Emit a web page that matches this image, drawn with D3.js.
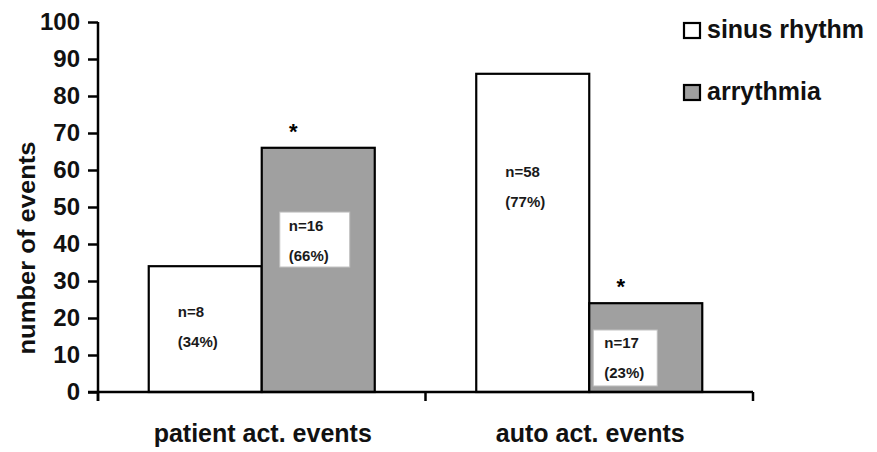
<!DOCTYPE html>
<html>
<head>
<meta charset="utf-8">
<script src="https://cdn.jsdelivr.net/npm/d3@7"></script>
<style>
  html, body { margin: 0; padding: 0; background: #fff; }
  svg { display: block; font-family: "Liberation Sans", Arial, sans-serif; }
</style>
</head>
<body>
<svg id="chart" width="877" height="452"></svg>
<script>
// ---- data ----
const categories = ["patient act. events", "auto act. events"];
const seriesNames = ["sinus rhythm", "arrythmia"];
const sinusValues = [34, 86];
const arrythmiaValues = [66, 24];
const sinusLabels = [["n=8", "(34%)"], ["n=58", "(77%)"]];
const arrythmiaLabels = [["n=16", "(66%)"], ["n=17", "(23%)"]];
const yTicks = [0, 10, 20, 30, 40, 50, 60, 70, 80, 90, 100];

// ---- layout ----
const svg = d3.select("#chart");
const plotLeft = 98, plotRight = 753, plotTop = 22, plotBottom = 392;
const colors = { "sinus rhythm": "#ffffff", "arrythmia": "#a0a0a0" };
// label anchor (value units, where first text line sits) for each series/category
const labelAnchor = { "sinus rhythm": [20.3, 58.1], "arrythmia": [43.5, 11.9] };

const x0 = d3.scaleBand().domain(categories).range([plotLeft, plotRight]).paddingInner(0).paddingOuter(0);
const x1 = d3.scaleBand().domain(seriesNames).range([0, x0.bandwidth()]).paddingInner(0).paddingOuter(0.449);
const y = d3.scaleLinear().domain([0, 100]).range([plotBottom, plotTop]);

const rows = [];
categories.forEach((c, i) => {
  rows.push({ cat: c, series: "sinus rhythm", value: sinusValues[i], label: sinusLabels[i], ci: i });
  rows.push({ cat: c, series: "arrythmia", value: arrythmiaValues[i], label: arrythmiaLabels[i], ci: i });
});

// bars
svg.append("g").selectAll("rect").data(rows).join("rect")
  .attr("x", d => x0(d.cat) + x1(d.series))
  .attr("y", d => y(d.value))
  .attr("width", x1.bandwidth())
  .attr("height", d => y(0) - y(d.value))
  .attr("fill", d => colors[d.series])
  .attr("stroke", "#000")
  .attr("stroke-width", 2.2);

// label boxes + texts
const lg = svg.append("g").selectAll("g").data(rows).join("g")
  .attr("transform", d => {
    const bx = x0(d.cat) + x1(d.series);
    const off = d.series === "arrythmia" ? (d.ci === 0 ? 18 : 4) : 29;
    return `translate(${bx + off},${y(labelAnchor[d.series][d.ci])})`;
  });
lg.append("rect")
  .attr("x", 0)
  .attr("y", d => d.ci === 0 ? -19 : -18)
  .attr("width", d => d.ci === 0 ? 70 : 64)
  .attr("height", d => d.ci === 0 ? 55 : 56)
  .attr("fill", "#fff")
  .attr("stroke", d => d.series === "arrythmia" ? "#bdbdbd" : "none")
  .attr("stroke-width", 1);
lg.append("text")
  .attr("x", d => d.series === "arrythmia" ? (d.ci === 0 ? 9 : 11) : 0)
  .attr("y", 0)
  .attr("font-size", 15).attr("font-weight", "bold").attr("fill", "#1a1a1a")
  .text(d => d.label[0]);
lg.append("text")
  .attr("x", d => d.series === "arrythmia" ? (d.ci === 0 ? 9 : 11) : 0)
  .attr("y", 30)
  .attr("font-size", 15).attr("font-weight", "bold").attr("fill", "#1a1a1a")
  .text(d => d.label[1]);

// asterisks over significant bars
svg.append("g").selectAll("text").data(rows.filter(d => d.series === "arrythmia")).join("text")
  .attr("x", d => x0(d.cat) + x1(d.series) + x1.bandwidth() * 0.28)
  .attr("y", d => y(d.value) - 9)
  .attr("text-anchor", "middle")
  .attr("font-size", 22).attr("font-weight", "bold")
  .text("*");

// y axis
const yAxis = svg.append("g").attr("transform", `translate(${plotLeft},0)`)
  .call(d3.axisLeft(y).tickValues(yTicks).tickSize(10).tickPadding(8).tickFormat(d3.format("d")));
yAxis.select(".domain").attr("stroke", "#000").attr("stroke-width", 2.5).attr("d", `M0,${plotTop}V${plotBottom + 9}`);
yAxis.selectAll(".tick line").attr("stroke", "#000").attr("stroke-width", 2.5);
yAxis.selectAll(".tick text").attr("font-size", 24).attr("font-weight", "bold").attr("fill", "#111")
  .attr("font-family", "Liberation Sans, Arial, sans-serif");

// x axis
const xAxis = svg.append("g").attr("transform", `translate(0,${plotBottom})`);
xAxis.append("line").attr("x1", plotLeft - 10).attr("x2", plotRight).attr("y1", 0).attr("y2", 0)
  .attr("stroke", "#000").attr("stroke-width", 2.5);
const boundaries = [plotLeft, x0(categories[1]), plotRight];
xAxis.selectAll("line.sep").data(boundaries).join("line").attr("class", "sep")
  .attr("x1", d => d).attr("x2", d => d).attr("y1", 0).attr("y2", 9)
  .attr("stroke", "#000").attr("stroke-width", 2.5);
xAxis.selectAll("text").data(categories).join("text")
  .attr("x", d => x0(d) + x0.bandwidth() / 2 + 1)
  .attr("y", 50)
  .attr("text-anchor", "middle")
  .attr("font-size", 25).attr("font-weight", "bold").attr("fill", "#111")
  .text(d => d);

// y title
svg.append("text")
  .attr("transform", `translate(35,248) rotate(-90)`)
  .attr("text-anchor", "middle")
  .attr("font-size", 24).attr("font-weight", "bold").attr("fill", "#111")
  .attr("textLength", 213).attr("lengthAdjust", "spacingAndGlyphs")
  .text("number of events");

// legend
const leg = svg.append("g").selectAll("g").data(seriesNames).join("g")
  .attr("transform", (d, i) => `translate(684,${23 + i * 62})`);
leg.append("rect").attr("width", 16).attr("height", 15)
  .attr("fill", d => colors[d]).attr("stroke", "#000").attr("stroke-width", 2.2);
leg.append("text").attr("x", 23).attr("y", 15)
  .attr("font-size", 25).attr("font-weight", "bold").attr("fill", "#111")
  .text(d => d);
</script>
</body>
</html>
